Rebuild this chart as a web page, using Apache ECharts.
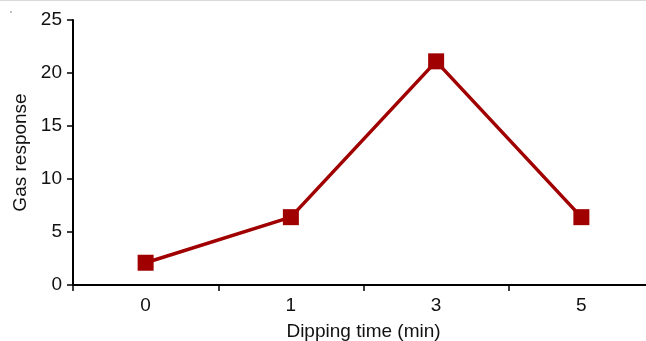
<!DOCTYPE html>
<html><head><meta charset="utf-8">
<script src="https://cdn.jsdelivr.net/npm/echarts@6/dist/echarts.min.js"></script>
<style>html,body{margin:0;padding:0;background:#fff}#c{width:646px;height:341px}</style>
</head><body><div id="c"></div>
<script>
const categories = ['0', '1', '3', '5'];
const gasResponse = [2.1, 6.4, 21.1, 6.4];
const yTicks = [0, 5, 10, 15, 20, 25];
const FONT = '"Liberation Sans", Arial, sans-serif';
const chart = echarts.init(document.getElementById('c'));
chart.setOption({
  animation: false,
  backgroundColor: '#fff',
  grid: { left: 73, width: 581, top: 20, height: 265, outerBoundsMode: 'none', containLabel: false },
  graphic: [
    { type: 'rect', shape: { x: 0, y: 0, width: 646, height: 1 }, style: { fill: '#d9d9d9' } },
    { type: 'circle', shape: { cx: 11, cy: 12, r: 0.7 }, style: { fill: '#555' } }
  ],
  xAxis: {
    type: 'category', data: categories, boundaryGap: true,
    name: 'Dipping time (min)', nameLocation: 'middle', nameGap: 37,
    nameTextStyle: { fontFamily: FONT, fontSize: 19, color: '#111' },
    axisLine: { lineStyle: { color: '#000', width: 2 } },
    axisTick: { show: true, length: 6, lineStyle: { color: '#000', width: 1.5 } },
    axisLabel: { fontFamily: FONT, fontSize: 19, color: '#111', margin: 11 },
    splitLine: { show: false }
  },
  yAxis: {
    type: 'value', min: yTicks[0], max: yTicks[yTicks.length - 1], interval: 5,
    name: 'Gas response', nameLocation: 'middle', nameGap: 43,
    nameTextStyle: { fontFamily: FONT, fontSize: 19, color: '#111' },
    axisLine: { show: true, lineStyle: { color: '#000', width: 2 } },
    axisTick: { show: true, length: 6, lineStyle: { color: '#000', width: 1.5 } },
    axisLabel: { fontFamily: FONT, fontSize: 19, color: '#111', margin: 11 },
    splitLine: { show: false }
  },
  series: [{
    type: 'line', data: gasResponse,
    symbol: 'rect', symbolSize: 16,
    lineStyle: { color: '#a00000', width: 3.5 },
    itemStyle: { color: '#a00000' }
  }]
});
</script></body></html>
